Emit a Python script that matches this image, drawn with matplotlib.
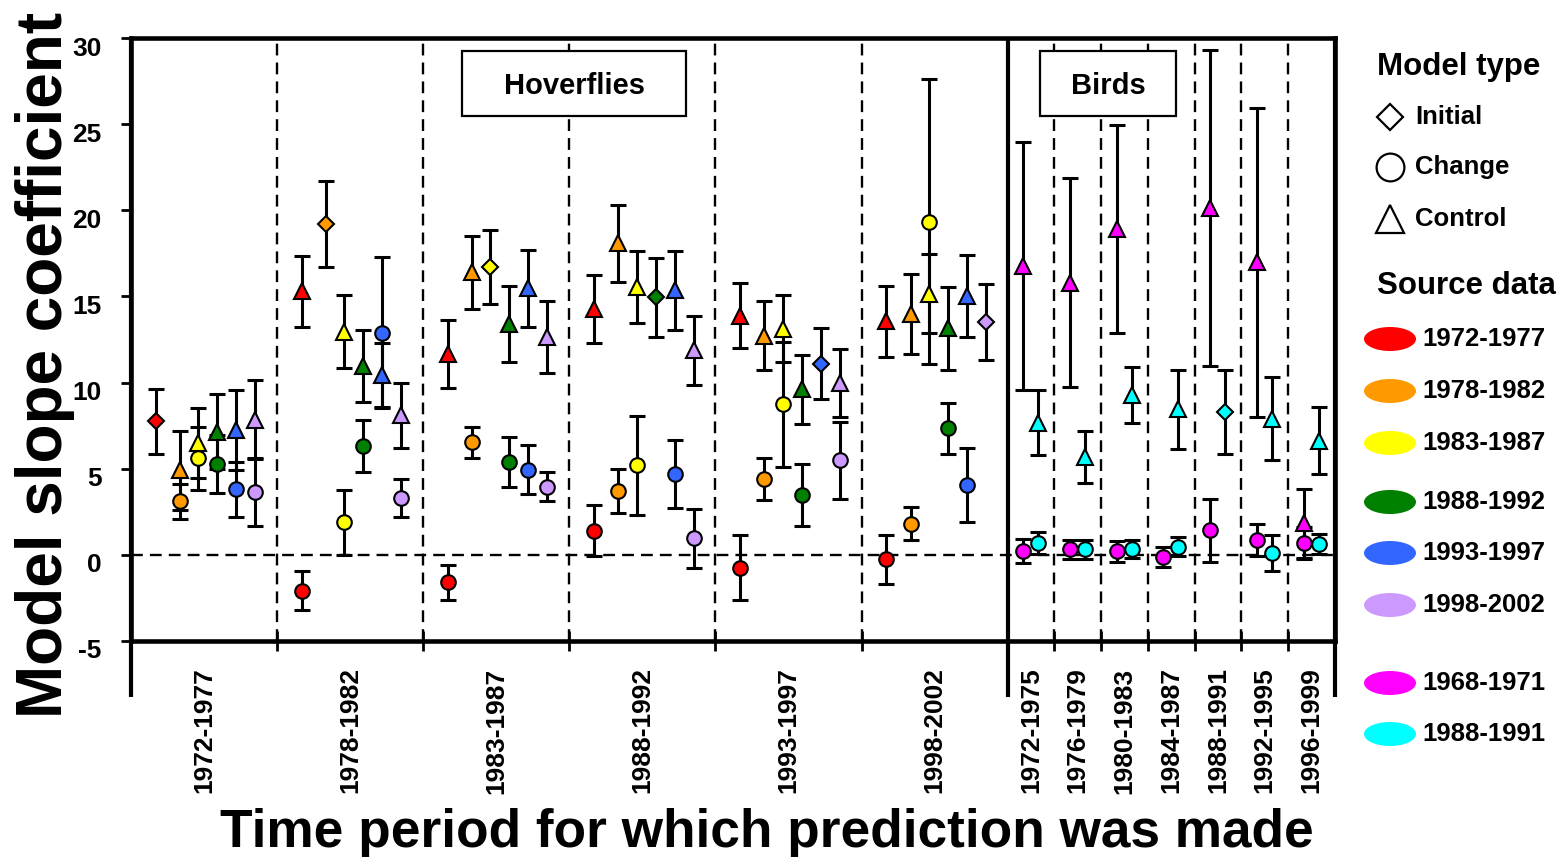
import numpy as np
import matplotlib.pyplot as plt
from matplotlib.patches import Ellipse, Rectangle
import matplotlib.transforms as mtransforms

plt.rcParams['font.family'] = ['Liberation Sans', 'DejaVu Sans']
plt.rcParams['font.weight'] = 'bold'
plt.rcParams['axes.unicode_minus'] = False

nan = np.nan

# hoverflies: six prediction periods, six source periods (same list)
hover_periods = ['1972-1977', '1978-1982', '1983-1987', '1988-1992', '1993-1997', '1998-2002']
hover_colors = ['#FF0000', '#FF9900', '#FFFF00', '#008000', '#3366FF', '#CC99FF']

# initial models (source == period), diamonds
hover_initial = [7.75, 19.2, 16.72, 14.95, 11.1, 13.5]
hover_initial_err = [1.87, 2.5, 2.15, 2.29, 2.08, 2.21]

# control models (triangles): rows = prediction period, cols = source data
hover_control = [
    [nan, 4.9, 6.5, 7.15, 7.25, 7.85],
    [15.29, nan, 12.95, 10.95, 10.43, 8.1],
    [11.67, 16.39, nan, 13.41, 15.47, 12.66],
    [14.26, 18.08, 15.54, nan, 15.35, 11.88],
    [13.89, 12.73, 13.13, 9.6, nan, 9.98],
    [13.56, 13.99, 15.15, 13.14, 15.03, nan],
]
hover_control_err = [
    [nan, 2.3, 2.05, 2.16, 2.32, 2.3],
    [2.06, nan, 2.13, 2.1, 1.85, 1.88],
    [1.97, 2.13, nan, 2.2, 2.25, 2.08],
    [1.99, 2.23, 2.1, nan, 2.29, 2.01],
    [1.91, 2.02, 1.96, 1.99, nan, 1.96],
    [2.06, 2.32, 2.3, 2.43, 2.38, nan],
]

# change models (circles)
hover_change = [
    [nan, 3.1, 5.6, 5.28, 3.8, 3.65],
    [-2.07, nan, 1.88, 6.3, 12.89, 3.3],
    [-1.6, 6.55, nan, 5.4, 4.95, 3.95],
    [1.4, 3.7, 5.2, nan, 4.68, 0.95],
    [-0.75, 4.4, 8.74, 3.48, nan, 5.5],
    [-0.25, 1.82, 19.34, 7.35, 4.05, nan],
]
hover_change_err = [
    [nan, 1.0, 1.85, 1.7, 1.58, 1.95],
    [1.14, nan, 1.88, 1.5, 4.39, 1.13],
    [1.03, 0.9, nan, 1.46, 1.42, 0.84],
    [1.48, 1.28, 2.87, nan, 1.96, 1.74],
    [1.88, 1.23, 3.62, 1.78, nan, 2.23],
    [1.43, 0.97, 8.26, 1.48, 2.17, nan],
]

# birds: seven prediction periods, two source periods
bird_periods = ['1972-1975', '1976-1979', '1980-1983', '1984-1987', '1988-1991', '1992-1995', '1996-1999']
bird_sources = ['1968-1971', '1988-1991']
bird_colors = ['#FF00FF', '#00FFFF']

bird_initial = [[nan] * 7, [nan, nan, nan, nan, 8.29, nan, nan]]
bird_initial_err = [[nan] * 7, [nan, nan, nan, nan, 2.42, nan, nan]]
bird_control = [[16.77, 15.79, 18.9, nan, 20.11, 16.97, 1.83],
                [7.67, 5.69, 9.27, 8.44, nan, 7.9, 6.63]]
bird_control_err = [[7.22, 6.07, 6.03, nan, 9.17, 8.94, 2.0],
                    [1.89, 1.51, 1.63, 2.27, nan, 2.4, 1.95]]
bird_change = [[0.21, 0.32, 0.21, -0.12, 1.42, 0.85, 0.67],
               [0.69, 0.32, 0.34, 0.48, nan, 0.11, 0.62]]
bird_change_err = [[0.69, 0.55, 0.6, 0.6, 1.83, 0.92, 0.92],
                   [0.63, 0.55, 0.5, 0.57, nan, 1.07, 0.57]]

# layout
src_off = [0.17, 0.335, 0.46, 0.59, 0.72, 0.85]
bird_w = 0.32
bird_off = [0.33, 0.65]
n_h = len(hover_periods)
x_end = n_h + bird_w * len(bird_periods)

fig = plt.figure(figsize=(15.66, 8.57), dpi=100)
ax = fig.add_axes([131 / 1566, 1 - 641 / 857, 1204 / 1566, 603 / 857])
ax.set_xlim(0, x_end)
ax.set_ylim(-5, 30)


def point(x, y, e, marker, color, ms):
    if np.isnan(y):
        return
    ax.errorbar(x, y, yerr=e, fmt='none', ecolor='k', elinewidth=2.2,
                capsize=5.5, capthick=2.2, zorder=3)
    ax.plot(x, y, marker=marker, ms=ms, mfc=color, mec='k', mew=1.5,
            ls='none', zorder=4)


for k in range(n_h):
    for s in range(n_h):
        x = k + src_off[s]
        if s == k:
            point(x, hover_initial[k], hover_initial_err[k], 'D', hover_colors[s], 8)
        else:
            point(x, hover_control[k][s], hover_control_err[k][s], '^', hover_colors[s], 11)
            point(x, hover_change[k][s], hover_change_err[k][s], 'o', hover_colors[s], 10.5)

for j in range(len(bird_periods)):
    for s in range(len(bird_sources)):
        x = n_h + bird_w * (j + bird_off[s])
        point(x, bird_initial[s][j], bird_initial_err[s][j], 'D', bird_colors[s], 8)
        point(x, bird_control[s][j], bird_control_err[s][j], '^', bird_colors[s], 11)
        point(x, bird_change[s][j], bird_change_err[s][j], 'o', bird_colors[s], 10.5)

# separators
dash = dict(color='k', lw=1.7, dashes=(5, 3), zorder=1)
for k in range(1, n_h):
    ax.axvline(k, **dash)
bird_edges = [n_h + bird_w * j for j in range(1, len(bird_periods))]
for b in bird_edges:
    ax.axvline(b, **dash)
ax.axhline(0, **dash)

trans = mtransforms.blended_transform_factory(ax.transData, ax.transAxes)
for xv in [0, n_h, x_end]:
    ax.plot([xv, xv], [-0.093, 1], transform=trans, color='k', lw=3,
            clip_on=False, zorder=5, solid_capstyle='butt')

for sp in ax.spines.values():
    sp.set_linewidth(3.3)

# ticks
ax.set_yticks(range(-5, 31, 5))
ax.tick_params(axis='y', direction='out', length=7, width=2, labelsize=19, pad=14)
shift = mtransforms.ScaledTranslation(0, -0.08, fig.dpi_scale_trans)
for lbl in ax.get_yticklabels():
    lbl.set_transform(lbl.get_transform() + shift)
centers = [k + 0.5 for k in range(n_h)] + [n_h + bird_w * (j + 0.5) for j in range(len(bird_periods))]
ax.set_xticks(centers)
ax.set_xticklabels(hover_periods + bird_periods, rotation=90, va='top', ha='center')
ax.tick_params(axis='x', which='major', length=0, labelsize=19, pad=19)
ax.set_xticks(list(range(1, n_h)) + bird_edges, minor=True)
ax.tick_params(axis='x', which='minor', direction='inout', length=14, width=2)

# group boxes
for (x0, x1), label in [((0.275, 0.461), 'Hoverflies'), ((0.755, 0.868), 'Birds')]:
    ax.add_patch(Rectangle((x0, 0.871), x1 - x0, 0.108, transform=ax.transAxes,
                           fill=True, fc='white', ec='k', lw=1.6, zorder=6))
    ax.text((x0 + x1) / 2, 0.921, label, transform=ax.transAxes, ha='center',
            va='center', fontsize=21, zorder=7)

fig.text(45 / 1566, 1 - 365 / 857, 'Model slope coefficient', rotation=90,
         ha='center', va='center', fontsize=46)
fig.text(767 / 1566, 1 - 833 / 857, 'Time period for which prediction was made',
         ha='center', va='center', fontsize=38.3)

# legend drawn in figure pixel space
lg = fig.add_axes([0, 0, 1, 1], zorder=-1)
lg.set_xlim(0, 1566)
lg.set_ylim(857, 0)
lg.axis('off')
lg.text(1377, 67, 'Model type', fontsize=22.5, va='center')
for yv, m, ms, lab in [(117, 'D', 13, 'Initial'), (167, 'o', 20, 'Change'), (219, '^', 20, 'Control')]:
    lg.plot(1390, yv, marker=m, ms=ms, mfc='white', mec='k', mew=1.6)
    lg.text(1415, yv, lab, fontsize=18.5, va='center')
lg.text(1377, 286, 'Source data', fontsize=22.5, va='center')
leg_y = [339, 391, 443, 502, 553, 605, 683, 734]
for yv, lab, col in zip(leg_y, hover_periods + bird_sources, hover_colors + bird_colors):
    lg.add_patch(Ellipse((1390, yv), 52, 24, fc=col, ec='none'))
    lg.text(1422, yv, lab, fontsize=18.5, va='center')

fig.savefig('out.png', dpi=100)
